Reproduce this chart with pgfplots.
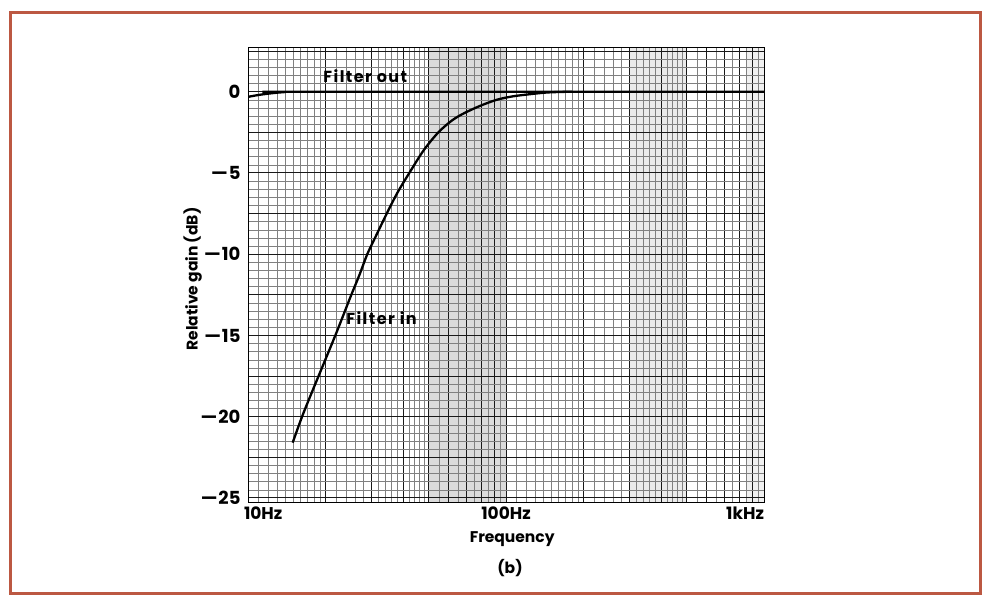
\documentclass[border=0pt]{standalone}
\usepackage{fontspec}
\setmainfont{Poppins}
\newfontfamily\spacedfont{Poppins}[LetterSpace=9]
\usepackage{pgfplots}
\pgfplotsset{compat=1.18}

\definecolor{framered}{RGB}{188,88,66}

% measured response of the rumble filter
\pgfplotstableread{
f     gain
14.9  -21.6
16.2  -20.0
18.0  -18.2
21.8  -15.0
25.0  -12.6
27.0  -11.3
29.0  -10.0
31.5  -8.8
34.5  -7.5
38.0  -6.2
42.2  -5.0
48.0  -3.6
54.7  -2.5
62.0  -1.75
69.3  -1.3
80.0  -0.85
92.0  -0.5
105   -0.3
117   -0.2
144   -0.05
180   0
}\filterin

\pgfplotstableread{
f     gain
10    -0.32
11    -0.20
12    -0.12
13    -0.06
14    -0.02
15    0
1000  0
}\filterout

\begin{document}
\begin{tikzpicture}
\path (0pt,0pt) rectangle (989pt,598pt);
\draw[framered, line width=3pt] (10pt,5pt) rectangle (980pt,585pt);
\begin{axis}[
  set layers,
  at={(248pt,96pt)}, anchor=south west,
  width=516pt, height=455pt, scale only axis,
  xmode=log, xmin=10, xmax=1000,
  ymin=-25.25, ymax=2.75,
  log basis x=10,
  xtick={10,20,30,40,50,60,70,80,90,100,200,300,400,500,600,700,800,900,1000},
  xticklabels={\rlap{\hspace*{-4pt}10Hz},,,,,,,,,100Hz,,,,,,,,,\llap{1kHz}},
  minor xtick={11,12,13,14,15,16,17,18,19,22,24,26,28,32,34,36,38,42,44,46,48,55,65,75,85,95,
    110,120,130,140,150,160,170,180,190,220,240,260,280,320,340,360,380,420,440,460,480,550,650,750,850,950},
  ytick={-25,-20,-15,-10,-5,0},
  yticklabels={—\kern1pt25,—\kern1pt20,—\kern1pt15,—\kern1pt10,—\kern1pt5,0},
  minor ytick={-24.5,-24,-23.5,-23,-22,-21.5,-21,-20.5,-19.5,-19,-18.5,-18,-17,-16.5,-16,-15.5,
    -14.5,-14,-13.5,-13,-12,-11.5,-11,-10.5,-9.5,-9,-8.5,-8,-7,-6.5,-6,-5.5,-4.5,-4,-3.5,-3,
    -2,-1.5,-1,-0.5,0.5,1,1.5,2},
  extra y ticks={-22.5,-17.5,-12.5,-7.5,-2.5,2.5},
  extra y tick labels={},
  extra y tick style={grid=major, major grid style={black!90, line width=1pt}},
  grid=both,
  major grid style={black!90, line width=1pt},
  minor grid style={black!50, line width=0.4pt},
  major tick length=0pt, minor tick length=0pt,
  tick label style={font=\fontsize{17}{19}\selectfont\bfseries},
  yticklabel style={font=\fontsize{18}{20}\selectfont\bfseries, anchor=east, xshift=-4pt},
  xticklabel style={anchor=north, yshift=-1pt},
  axis line style={black, line width=0.8pt},
  xlabel={Frequency},
  ylabel={Relative gain (dB)},
  label style={font=\fontsize{15.5}{18}\selectfont\bfseries},
  x label style={at={(axis description cs:0.512,-0.082)}, anchor=center},
  y label style={at={(axis description cs:-0.107,0.49)}, anchor=center},
]
\begin{pgfonlayer}{axis background}
  \fill[gray!28] (axis cs:50,-25.25) rectangle (axis cs:100,2.75);
  \fill[gray!16] (axis cs:300,-25.25) rectangle (axis cs:500,2.75);
  \fill[gray!12] (axis cs:850,-25.25) rectangle (axis cs:1000,2.75);
\end{pgfonlayer}
\addplot[black, line width=2.3pt, smooth] table[x=f, y=gain] {\filterout};
\addplot[black, line width=2.3pt, smooth] table[x=f, y=gain] {\filterin};
\node[anchor=west, font=\fontsize{16}{18}\selectfont\spacedfont\bfseries, inner sep=1pt] at (axis cs:19.4,0.97) {Filter out};
\node[anchor=west, font=\fontsize{16}{18}\selectfont\spacedfont\bfseries, inner sep=1pt] at (axis cs:23.8,-13.93) {Filter in};
\end{axis}
\node[font=\fontsize{15.5}{18}\selectfont\bfseries] at (510pt,30pt) {(b)};
\end{tikzpicture}
\end{document}
